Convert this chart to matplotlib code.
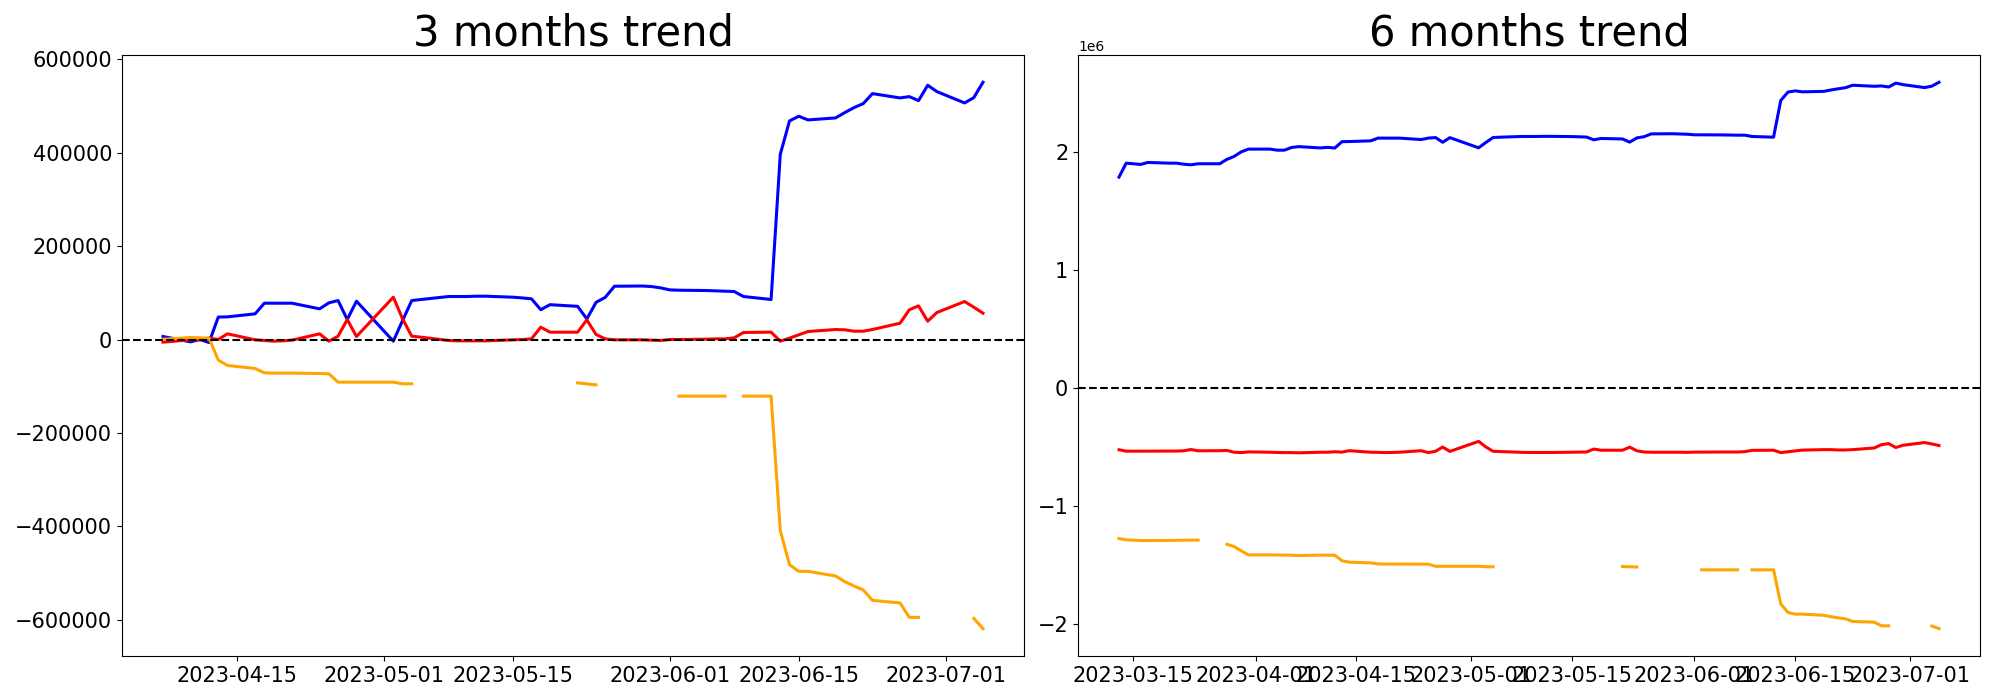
import matplotlib
matplotlib.use("Agg")
import matplotlib.pyplot as plt
import numpy as np
import pandas as pd

nan = np.nan

# trading days (weekdays, 1 May missing in the data)
days_6m = pd.bdate_range("2023-03-13", "2023-07-05").drop(pd.Timestamp("2023-05-01"))
days_3m = days_6m[days_6m >= pd.Timestamp("2023-04-07")]

# ---- 3 months ----
blue_3m = [6400, -5000, 0, -6500, 48000, 48500, 54900, 77700, 77700, 77700,
           77700, 65600, 78400, 83400, 42800, 82000, -3600, 40600, 83400, 85600,
           92000, 92000, 92000, 92700, 92700, 90500, 89000, 87000, 63800, 74500,
           71000, 44000, 79500, 90200, 114000, 114500, 113400, 110500, 106200, 105500,
           104800, 104100, 103400, 102700, 92000, 85600, 396500, 467800, 477800, 469900,
           474200, 485600, 496300, 504800, 526200, 517000, 519800, 511200, 544100, 530500,
           506300, 517600, 550500]
red_3m = [-5700, -700, -500, 3000, 0, 12100, -700, -2100, -3600, -2900,
          -1400, 12100, -3600, 7100, 42800, 6400, 90600, 44200, 7100, 5000,
          -2100, -2900, -2900, -2900, -2900, -700, 0, 1400, 26400, 15700,
          15700, 42000, 10700, 1400, -700, -700, -1400, -2100, 0, 0,
          700, 1400, 1400, 3600, 15000, 15700, -3600, 2900, 10000, 17100,
          21400, 20700, 17800, 17800, 21400, 34900, 63500, 72000, 39200, 57800,
          81300, 69200, 56300]
orange_3m = [500, 4300, 3500, 2900, -44000, -55600, -62000, -71300, -72000, -72000,
             -72000, -72700, -73400, -91300, -91300, -91300, -91300, -94800, -94800, nan,
             nan, nan, nan, nan, nan, nan, nan, nan, nan, nan,
             -92700, -95000, -97000, nan, nan, nan, nan, nan, nan, -121200,
             -121200, -121200, -121200, nan, -121200, -121200, -409200, -481900, -496200, -496200,
             -506100, -518300, -527500, -536000, -558300, -563800, -594600, -594600, nan, nan,
             nan, -596800, -618800]

# ---- 6 months (millions) ----
blue_6m = [1.787, 1.905, 1.900, 1.894, 1.911, 1.905, 1.905, 1.896, 1.891, 1.900,
           1.900, 1.937, 1.962, 2.001, 2.024, 2.024, 2.015, 2.015, 2.038,
           2.045, 2.034, 2.039, 2.033, 2.087, 2.088, 2.094, 2.117, 2.117, 2.117,
           2.117, 2.105, 2.117, 2.122, 2.082, 2.121, 2.035, 2.080, 2.122, 2.125,
           2.131, 2.131, 2.131, 2.132, 2.132, 2.130, 2.128, 2.126, 2.103, 2.114,
           2.110, 2.083, 2.119, 2.129, 2.153, 2.154, 2.152, 2.150, 2.145, 2.145,
           2.144, 2.143, 2.142, 2.142, 2.131, 2.125, 2.436, 2.507, 2.517, 2.509,
           2.513, 2.525, 2.535, 2.544, 2.565, 2.556, 2.559, 2.550, 2.583, 2.570,
           2.545, 2.557, 2.590]
red_6m = [-0.522, -0.534, -0.534, -0.534, -0.534, -0.533, -0.533, -0.531, -0.520, -0.531,
          -0.530, -0.528, -0.543, -0.546, -0.540, -0.543, -0.545, -0.546, -0.546,
          -0.548, -0.543, -0.543, -0.539, -0.542, -0.530, -0.543, -0.544, -0.546, -0.545,
          -0.543, -0.530, -0.546, -0.535, -0.499, -0.536, -0.451, -0.498, -0.535, -0.537,
          -0.544, -0.545, -0.545, -0.545, -0.545, -0.543, -0.542, -0.541, -0.516, -0.526,
          -0.526, -0.500, -0.531, -0.541, -0.543, -0.543, -0.543, -0.544, -0.542, -0.542,
          -0.541, -0.541, -0.541, -0.538, -0.527, -0.526, -0.546, -0.539, -0.532, -0.525,
          -0.521, -0.521, -0.524, -0.524, -0.521, -0.507, -0.479, -0.470, -0.503, -0.484,
          -0.461, -0.473, -0.486]
orange_6m = [-1.274, -1.285, -1.288, -1.291, -1.291, -1.290, -1.289, -1.288, -1.287, -1.287,
             nan, -1.322, -1.342, -1.378, -1.412, -1.412, -1.413, -1.414, -1.415,
             -1.418, -1.414, -1.415, -1.415, -1.462, -1.474, -1.480, -1.489, -1.490, -1.490,
             -1.490, -1.491, -1.491, -1.509, -1.509, -1.509, -1.509, -1.513, -1.513, nan,
             nan, nan, nan, nan, nan, nan, nan, nan, nan, nan,
             -1.511, -1.513, -1.515, nan, nan, nan, nan, nan, nan, -1.539,
             -1.539, -1.539, -1.539, nan, -1.539, -1.539, -1.827, -1.900, -1.914, -1.914,
             -1.924, -1.936, -1.946, -1.954, -1.976, -1.982, -2.013, -2.013, nan, nan,
             nan, -2.015, -2.037]

fig, (ax1, ax2) = plt.subplots(1, 2, figsize=(20, 7), dpi=100)
ax1.set_position([0.061, 0.0629, 0.451, 0.8586])
ax2.set_position([0.539, 0.0629, 0.451, 0.8586])

ax1.plot(days_3m, blue_3m, color="blue", lw=2.2)
ax1.plot(days_3m, red_3m, color="red", lw=2.2)
ax1.plot(days_3m, orange_3m, color="orange", lw=2.2)
ax1.axhline(0, color="black", linestyle="--", lw=1.5)
ax1.set_title("3 months trend", fontsize=30)

ax2.plot(days_6m, np.array(blue_6m) * 1e6, color="blue", lw=2.2)
ax2.plot(days_6m, np.array(red_6m) * 1e6, color="red", lw=2.2)
ax2.plot(days_6m, np.array(orange_6m) * 1e6, color="orange", lw=2.2)
ax2.axhline(0, color="black", linestyle="--", lw=1.5)
ax2.set_title("6 months trend", fontsize=30)

for ax in (ax1, ax2):
    ax.tick_params(labelsize=15)

plt.savefig("out.png")
